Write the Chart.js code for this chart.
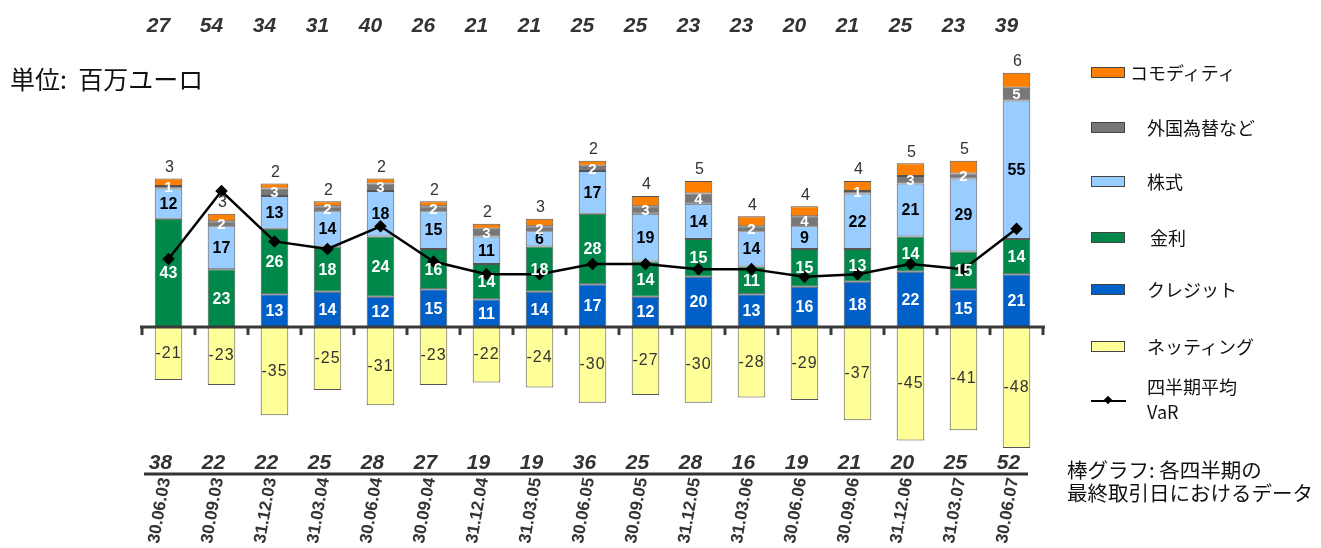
<!DOCTYPE html>
<html><head><meta charset="utf-8">
<script src="https://cdn.jsdelivr.net/npm/chart.js@4"></script>
<style>
body{margin:0;background:#fff;}
#wrap{position:relative;width:1321px;height:548px;overflow:hidden;font-family:"Noto Sans CJK JP","Noto Sans",sans-serif;color:#111;}
canvas{position:absolute;left:0;top:0;}
.t{position:absolute;white-space:nowrap;}
.box{position:absolute;width:32px;height:9px;border:1px solid #444;}
</style></head><body>
<div id="wrap">
<canvas id="c" width="1321" height="548"></canvas>
<div class="t" style="left:10px;top:60px;font-size:25px;">単位:&nbsp; 百万ユーロ</div>
<div id="legend"></div>
<div class="t" style="left:1067px;top:458px;font-size:20.5px;line-height:23px;">棒グラフ:&nbsp;各四半期の<br>最終取引日におけるデータ</div>
</div>
<script>
const categories = ["30.06.03","30.09.03","31.12.03","31.03.04","30.06.04","30.09.04","31.12.04","31.03.05","30.06.05","30.09.05","31.12.05","31.03.06","30.06.06","30.09.06","31.12.06","31.03.07","30.06.07"];
const credit    = [null,null,13,14,12,15,11,14,17,12,20,13,16,18,22,15,21];
const rates     = [43,23,26,18,24,16,14,18,28,14,15,11,15,13,14,15,14];
const equity    = [12,17,13,14,18,15,11,6,17,19,14,14,9,22,21,29,55];
const fx        = [1,2,3,2,3,2,3,2,2,3,4,2,4,1,3,2,5];
const commodity = [3,3,2,2,2,2,2,3,2,4,5,4,4,4,5,5,6];
const netting   = [-21,-23,-35,-25,-31,-23,-22,-24,-30,-27,-30,-28,-29,-37,-45,-41,-48];
const avgVaR    = [27,54,34,31,40,26,21,21,25,25,23,23,20,21,25,23,39];
const totalVaR  = [38,22,22,25,28,27,19,19,36,25,28,16,19,21,20,25,52];

const COL = {commodity:"#FF8000", fx:"#777777", equity:"#99CCFF", rates:"#00884A", credit:"#0060C8", netting:"#FFFF99"};

// HTML legend
const legendItems = [
  {label:"コモディティ", color:COL.commodity, y:72, tx:1130},
  {label:"外国為替など", color:COL.fx, y:127, tx:1147},
  {label:"株式", color:COL.equity, y:181, tx:1147},
  {label:"金利", color:COL.rates, y:237, tx:1150},
  {label:"クレジット", color:COL.credit, y:289, tx:1147},
  {label:"ネッティング", color:COL.netting, y:346, tx:1147}
];
const lg = document.getElementById('legend');
legendItems.forEach(it=>{
  const b=document.createElement('div');b.className='box';
  b.style.left='1091px';b.style.top=(it.y-5)+'px';b.style.background=it.color;lg.appendChild(b);
  const t=document.createElement('div');t.className='t';t.textContent=it.label;
  t.style.left=it.tx+'px';t.style.top=(it.y-13)+'px';t.style.fontSize='18px';lg.appendChild(t);
});
{
  const t=document.createElement('div');t.className='t';
  t.innerHTML='四半期平均<br>VaR';t.style.left='1147px';t.style.top='374px';t.style.fontSize='18px';t.style.lineHeight='25px';lg.appendChild(t);
  const l=document.createElement('div');l.style.cssText='position:absolute;left:1091px;top:400px;width:35px;height:2px;background:#000;';lg.appendChild(l);
  const d=document.createElement('div');d.style.cssText='position:absolute;left:1105px;top:397px;width:6px;height:6px;background:#000;transform:rotate(45deg);';lg.appendChild(d);
}

const segDefs = [
  {key:'credit', color:'#fff', font:'bold 16px "Liberation Sans", Arial'},
  {key:'rates', color:'#fff', font:'bold 16px "Liberation Sans", Arial'},
  {key:'equity', color:'#000', font:'bold 16px "Liberation Sans", Arial'},
  {key:'fx', color:'#fff', font:'bold 15px "Liberation Sans", Arial'},
];

const overlay = {
  id:'overlay',
  afterDatasetsDraw(chart){
    const ctx = chart.ctx, x = chart.scales.x, y = chart.scales.y;
    const ca = chart.chartArea;
    const step = (ca.right - ca.left)/categories.length;
    const y0 = y.getPixelForValue(0);
    ctx.save();
    // zero axis
    ctx.strokeStyle = '#3a3a3a'; ctx.lineWidth = 3;
    ctx.beginPath(); ctx.moveTo(ca.left-2, y0); ctx.lineTo(ca.right+2, y0); ctx.stroke();
    for(let i=0;i<=categories.length;i++){
      const tx = ca.left + i*step;
      ctx.beginPath(); ctx.moveTo(tx, y0); ctx.lineTo(tx, y0+8); ctx.stroke();
    }
    // segment labels
    ctx.textAlign='center'; ctx.textBaseline='middle';
    segDefs.forEach((s)=>{
      const dsIndex = chart.data.datasets.findIndex(d=>d.key===s.key);
      const meta = chart.getDatasetMeta(dsIndex);
      meta.data.forEach((el,i)=>{
        const v = chart.data.datasets[dsIndex].data[i];
        if(v==null) return;
        ctx.font = s.font; ctx.fillStyle = s.color;
        ctx.fillText(String(v), el.x, (el.y+el.base)/2+1);
      });
    });
    // commodity label above bar
    {
      const dsIndex = chart.data.datasets.findIndex(d=>d.key==='commodity');
      const meta = chart.getDatasetMeta(dsIndex);
      ctx.font='16px "Liberation Sans", Arial'; ctx.fillStyle='#333';
      meta.data.forEach((el,i)=>{
        ctx.fillText(String(commodity[i]), el.x+1, el.y-11);
      });
    }
    // netting labels
    {
      const dsIndex = chart.data.datasets.findIndex(d=>d.key==='netting');
      const meta = chart.getDatasetMeta(dsIndex);
      ctx.font='16px "Liberation Sans", Arial'; ctx.fillStyle='#333';
      try{ctx.letterSpacing='1px';}catch(e){}
      meta.data.forEach((el,i)=>{
        ctx.fillText(String(netting[i]), el.x, (el.y+el.base)/2);
      });
      try{ctx.letterSpacing='0px';}catch(e){}
    }
    // top row numbers (average VaR)
    ctx.font='italic bold 21px "Liberation Sans", Arial'; ctx.fillStyle='#333';
    avgVaR.forEach((v,i)=>{
      const cx = x.getPixelForValue(i);
      ctx.fillText(String(v), cx-10, 26);
    });
    // bottom row numbers
    totalVaR.forEach((v,i)=>{
      const cx = x.getPixelForValue(i);
      ctx.fillText(String(v), cx-8, 463);
    });
    ctx.strokeStyle='#333'; ctx.lineWidth=3;
    ctx.beginPath(); ctx.moveTo(144, 474); ctx.lineTo(1028, 474); ctx.stroke();
    // dates
    ctx.font='bold 17px "Liberation Sans", Arial'; ctx.fillStyle='#333';
    ctx.textAlign='right'; ctx.textBaseline='middle';
    categories.forEach((c,i)=>{
      const cx = x.getPixelForValue(i);
      ctx.save();
      ctx.translate(cx-3, 478);
      ctx.rotate(-80*Math.PI/180);
      ctx.fillText(c, 0, 0);
      ctx.restore();
    });
    ctx.restore();
  }
};

const mkBar = (key,label,data)=>({type:'bar',key,label,data,backgroundColor:COL[key],borderColor:'#555',borderWidth:1,borderSkipped:false,stack:'s',order:2,barPercentage:0.52,categoryPercentage:1});

new Chart(document.getElementById('c'),{
  data:{
    labels:categories,
    datasets:[
      {type:'line',key:'var',label:'四半期平均 VaR',data:avgVaR,borderColor:'#000',backgroundColor:'#000',borderWidth:2.5,pointStyle:'rectRot',pointRadius:4.5,pointBackgroundColor:'#000',tension:0,order:0},
      mkBar('credit','クレジット',credit),
      mkBar('rates','金利',rates),
      mkBar('equity','株式',equity),
      mkBar('fx','外国為替など',fx),
      mkBar('commodity','コモディティ',commodity),
      mkBar('netting','ネッティング',netting)
    ]
  },
  options:{
    responsive:false,animation:false,
    layout:{padding:{left:142,right:278,top:50,bottom:95}},
    plugins:{legend:{display:false},tooltip:{enabled:false},title:{display:false}},
    scales:{
      x:{display:false,stacked:true,offset:true},
      y:{display:false,stacked:true,min:-50,max:110}
    }
  },
  plugins:[overlay]
});
</script>
</body></html>
